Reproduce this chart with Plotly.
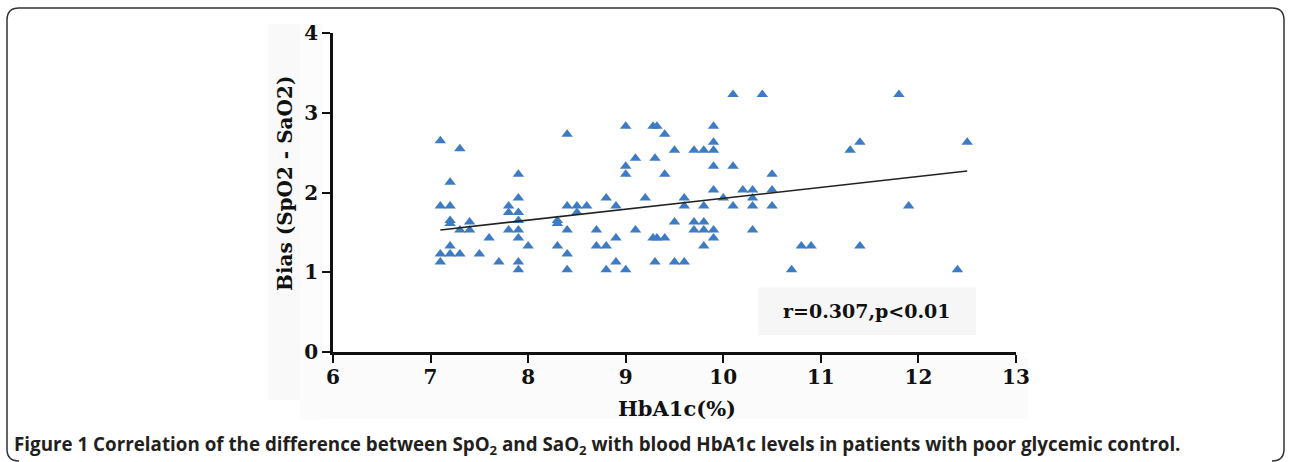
import plotly.graph_objects as go

# ---- data ----
hba1c = [7.1, 7.1, 7.1, 7.1,
         7.2, 7.2, 7.2, 7.2, 7.2, 7.2,
         7.3, 7.3, 7.3,
         7.4, 7.4,
         7.5, 7.6, 7.7,
         7.8, 7.8, 7.8,
         7.9, 7.9, 7.9, 7.9, 7.9, 7.9, 7.9, 7.9,
         8.0,
         8.3, 8.3, 8.3,
         8.4, 8.4, 8.4, 8.4, 8.4,
         8.5, 8.5, 8.6,
         8.7, 8.7,
         8.8, 8.8, 8.8,
         8.9, 8.9, 8.9,
         9.0, 9.0, 9.0, 9.0,
         9.1, 9.1, 9.2,
         9.28, 9.32, 9.3, 9.28, 9.32, 9.3,
         9.4, 9.4, 9.4,
         9.5, 9.5, 9.5,
         9.6, 9.6, 9.6,
         9.7, 9.7, 9.7,
         9.8, 9.8, 9.8, 9.8, 9.8,
         9.9, 9.9, 9.9, 9.9, 9.9, 9.9, 9.9,
         10.0,
         10.1, 10.1, 10.1,
         10.2,
         10.3, 10.3, 10.3, 10.3,
         10.4,
         10.5, 10.5, 10.5,
         10.7, 10.8, 10.9,
         11.3, 11.4, 11.4,
         11.8, 11.9,
         12.4, 12.5]
bias = [2.65, 1.83, 1.23, 1.13,
        2.13, 1.83, 1.65, 1.61, 1.33, 1.23,
        2.55, 1.53, 1.23,
        1.63, 1.53,
        1.23, 1.43, 1.13,
        1.83, 1.75, 1.53,
        2.23, 1.93, 1.75, 1.65, 1.53, 1.43, 1.13, 1.03,
        1.33,
        1.65, 1.61, 1.33,
        2.73, 1.83, 1.53, 1.23, 1.03,
        1.83, 1.75, 1.83,
        1.53, 1.33,
        1.93, 1.33, 1.03,
        1.83, 1.43, 1.13,
        2.83, 2.33, 2.23, 1.03,
        2.43, 1.53, 1.93,
        2.83, 2.83, 2.43, 1.43, 1.43, 1.13,
        2.73, 2.23, 1.43,
        2.53, 1.63, 1.13,
        1.93, 1.83, 1.13,
        2.53, 1.63, 1.53,
        2.53, 1.83, 1.63, 1.53, 1.33,
        2.83, 2.63, 2.53, 2.33, 2.03, 1.53, 1.43,
        1.93,
        3.23, 2.33, 1.83,
        2.03,
        2.03, 1.93, 1.83, 1.53,
        3.23,
        2.23, 2.03, 1.83,
        1.03, 1.33, 1.33,
        2.53, 2.63, 1.33,
        3.23, 1.83,
        1.03, 2.63]

fit_x = [7.1, 12.5]
fit_y = [1.53, 2.27]

x_ticks = [6, 7, 8, 9, 10, 11, 12, 13]
y_ticks = [0, 1, 2, 3, 4]
stat_text = "r=0.307,p<0.01"
stat_box_x = [10.36, 12.59]
stat_box_y = [0.21, 0.81]

# ---- layout geometry (pixels) ----
W, H = 1289, 462
L, R, T, B = 333, 1289 - 1016, 33, 462 - 352
PW, PH = W - L - R, H - T - B


def px(x):
    return (x - L) / PW


def py(y):
    return (H - B - y) / PH


serif = "DejaVu Serif, Liberation Serif, serif"
blue = "#3d7cc4"
ink = "#111111"

fig = go.Figure()
fig.add_trace(go.Scatter(
    x=hba1c, y=bias, mode="markers",
    marker=dict(symbol="triangle-up", size=10, color=blue,
                line=dict(width=0)),
    showlegend=False, hoverinfo="x+y"))
fig.add_trace(go.Scatter(
    x=fit_x, y=fit_y, mode="lines",
    line=dict(color="#222222", width=1.6),
    showlegend=False, hoverinfo="skip"))

shapes = []
# faint background panels from the original composite
shapes.append(dict(type="rect", xref="paper", yref="paper",
                   x0=px(268), x1=px(300), y0=py(400), y1=py(24),
                   fillcolor="#f9f9f9", line=dict(width=0), layer="below"))
shapes.append(dict(type="rect", xref="paper", yref="paper",
                   x0=px(300), x1=px(322), y0=py(420), y1=py(24),
                   fillcolor="#fcfcfc", line=dict(width=0), layer="below"))
shapes.append(dict(type="rect", xref="paper", yref="paper",
                   x0=px(305), x1=px(1028), y0=py(419), y1=py(358),
                   fillcolor="#fbfbfb", line=dict(width=0), layer="below"))
# stat box
shapes.append(dict(type="rect", xref="x", yref="y",
                   x0=stat_box_x[0], x1=stat_box_x[1],
                   y0=stat_box_y[0], y1=stat_box_y[1],
                   fillcolor="#f6f6f6", line=dict(width=0), layer="below"))
# rounded outer frame
r = 12
x0, x1, y0, y1 = 7, 1284, 8, 461
path = (f"M {px(x0 + r)} {py(y1)} "
        f"Q {px(x0)} {py(y1)} {px(x0)} {py(y1 - r)} "
        f"L {px(x0)} {py(y0 + r)} "
        f"Q {px(x0)} {py(y0)} {px(x0 + r)} {py(y0)} "
        f"L {px(x1 - r)} {py(y0)} "
        f"Q {px(x1)} {py(y0)} {px(x1)} {py(y0 + r)} "
        f"L {px(x1)} {py(y1 - r)} "
        f"Q {px(x1)} {py(y1)} {px(x1 - r)} {py(y1)}")
shapes.append(dict(type="path", xref="paper", yref="paper", path=path,
                   line=dict(color="#333333", width=1.5)))

annotations = [
    dict(x=(stat_box_x[0] + stat_box_x[1]) / 2,
         y=(stat_box_y[0] + stat_box_y[1]) / 2,
         xref="x", yref="y", text=f"<b>{stat_text}</b>", showarrow=False,
         font=dict(family=serif, size=19, color=ink)),
    dict(x=px(677), y=py(408), xref="paper", yref="paper",
         xanchor="center", yanchor="middle", showarrow=False,
         text="<b>HbA1c(%)</b>",
         font=dict(family=serif, size=21, color=ink)),
    dict(x=px(285), y=py(184), xref="paper", yref="paper",
         xanchor="center", yanchor="middle", showarrow=False, textangle=-90,
         text="<b>Bias (SpO2 - SaO2)</b>",
         font=dict(family=serif, size=20, color=ink)),
    dict(x=px(12), y=py(445), xref="paper", yref="paper",
         xanchor="left", yanchor="middle", showarrow=False,
         text=("<b>Figure 1 Correlation of the difference between SpO<sub>2</sub> "
               "and SaO<sub>2</sub> with blood HbA1c levels in patients with "
               "poor glycemic control.</b>"),
         font=dict(family="Open Sans, sans-serif", size=18.8, color="#231f20")),
]

fig.update_layout(
    width=W, height=H,
    margin=dict(l=L, r=R, t=T, b=B, pad=0),
    paper_bgcolor="white", plot_bgcolor="white",
    shapes=shapes, annotations=annotations,
    xaxis=dict(range=[6, 13], tickvals=x_ticks,
               ticktext=[f"<b>{v}</b>" for v in x_ticks],
               showgrid=False, zeroline=False, showline=True,
               linecolor=ink, linewidth=2.5,
               ticks="outside", ticklen=8, tickwidth=2, tickcolor=ink,
               ticklabelstandoff=-3,
               tickfont=dict(family=serif, size=20, color=ink)),
    yaxis=dict(range=[0, 4], tickvals=y_ticks,
               ticktext=[f"<b>{v}</b>" for v in y_ticks],
               showgrid=False, zeroline=False, showline=True,
               linecolor=ink, linewidth=2.5,
               ticks="outside", ticklen=8, tickwidth=2, tickcolor=ink,
               tickfont=dict(family=serif, size=20, color=ink)),
)

fig.write_html("out.html")
